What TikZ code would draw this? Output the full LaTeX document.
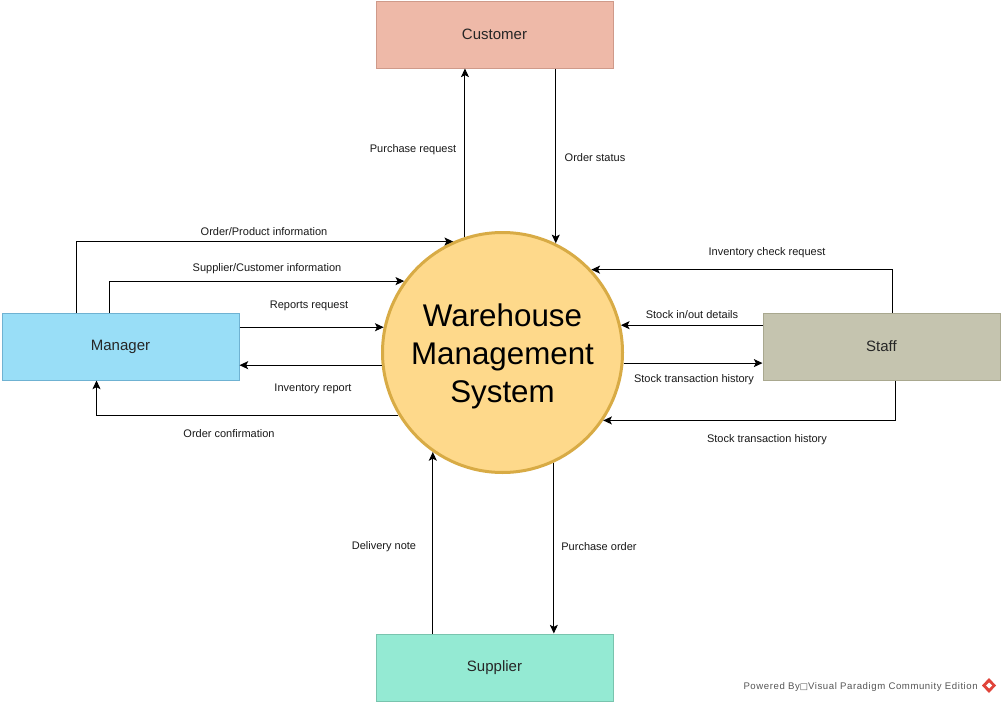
\documentclass[tikz,border=0pt]{standalone}
\usepackage{fontspec}
\setmainfont{Liberation Sans}
\newfontfamily\symfont{DejaVu Sans}
\usetikzlibrary{arrows.meta,calc}
\definecolor{custfill}{HTML}{EEB9A8}
\definecolor{custline}{HTML}{CF9A8A}
\definecolor{manfill}{HTML}{99DEF7}
\definecolor{manline}{HTML}{6FB2D2}
\definecolor{stafffill}{HTML}{C5C4AF}
\definecolor{staffline}{HTML}{A9A88F}
\definecolor{supfill}{HTML}{94EAD3}
\definecolor{supline}{HTML}{79C4AE}
\definecolor{sysfill}{HTML}{FED98B}
\definecolor{sysline}{HTML}{D8AB45}
\definecolor{wmgray}{HTML}{555555}
\definecolor{vpred}{HTML}{E0443A}
\begin{document}
\begin{tikzpicture}[x=0.75pt,y=-0.75pt,
  entity/.style={draw, line width=0.75pt, minimum width=177.75pt, minimum height=50.25pt, inner sep=0pt,
    text=black!85, font=\fontsize{11.25}{13}\selectfont},
  process/.style={circle, draw=sysline, fill=sysfill, line width=2.25pt, minimum size=180pt, inner sep=0pt,
    align=center, font=\fontsize{23.5}{28.5}\selectfont},
  flow/.style={draw=black, line width=0.75pt, -{Stealth[length=6.5pt,width=6pt,inset=1.5pt]}},
  lbl/.style={inner sep=0pt, text=black!90, font=\fontsize{8.25}{10}\selectfont}]
\fill[white] (0,0) rectangle (1001,703);
\path[use as bounding box] (0,0) rectangle (1001,703);

% entities
\node[entity, draw=custline, fill=custfill] (cust) at (494.5,34.5) {\raisebox{-1.2pt}{Customer}};
\node[entity, draw=manline, fill=manfill] (man) at (120.5,346.5) {\raisebox{-1.2pt}{Manager}};
\node[entity, draw=staffline, fill=stafffill] (staff) at (881.5,346.5) {\raisebox{-1.2pt}{Staff}};
\node[entity, draw=supline, fill=supfill] (sup) at (494.5,667.5) {\raisebox{-1.2pt}{Supplier}};
\node[process] (sys) at (502.5,352.5) {};
\node[align=center, inner sep=0pt, font=\fontsize{23.5}{28.5}\selectfont] (systxt) at (502.5,356) {Warehouse\\Management\\System};

% connector end points on the boxes
\coordinate (m1) at ($(man.north west)+(75,0)$);
\coordinate (m2) at ($(man.north west)+(108,0)$);
\coordinate (m3) at ($(man.south west)+(95,0)$);
\coordinate (s1) at ($(staff.north west)+(130,0)$);
\coordinate (s2) at ($(staff.south west)+(133,0)$);

% customer
\draw[flow] (sys.108.2) -- (sys.108.2 |- cust.south);
\draw[flow] (sys.64.6 |- cust.south) -- (sys.64.6);
% manager
\draw[flow] (m1) |- (sys.114.1);
\draw[flow] (m2) |- (sys.144);
\draw[flow] (man.east |- sys.168.7) -- (sys.168.7);
\draw[flow] (sys.186) -- (man.east |- sys.186);
\draw[flow] (sys.211.4) -| (m3);
% staff
\draw[flow] (s1) |- (sys.43.4);
\draw[flow] (staff.west |- sys.13.7) -- (sys.13.7);
\draw[flow] (sys.-5) -- (staff.west |- sys.-5);
\draw[flow] (s2) |- (sys.-34.8);
% supplier
\draw[flow] (sys.-125.4 |- sup.north) -- (sys.-125.4);
\draw[flow] (sys.-65.6) -- (sys.-65.6 |- sup.north);

% labels
\node[lbl] (l1) at (413,150) {Purchase request};
\node[lbl] (l2) at (595,158) {Order status};
\node[lbl] (l3) at (264,232) {Order/Product information};
\node[lbl] (l4) at (267,269) {Supplier/Customer information};
\node[lbl] (l5) at (309,306) {Reports request};
\node[lbl] (l6) at (313,389) {Inventory report};
\node[lbl] (l7) at (229,434) {Order confirmation};
\node[lbl] (l8) at (767,253) {Inventory check request};
\node[lbl] (l9) at (692,315) {Stock in/out details};
\node[lbl] (l10) at (694,380) {Stock transaction history};
\node[lbl] (l11) at (767,440) {Stock transaction history};
\node[lbl] (l12) at (384,547) {Delivery note};
\node[lbl] (l13) at (599,547) {Purchase order};

% watermark
\node[inner sep=0pt, text=wmgray, font=\fontsize{7.2}{9}\selectfont, anchor=east] (wm) at (978,687)
  {\addfontfeatures{LetterSpace=6}Powered By{\symfont\fontsize{6.5}{8}\selectfont □}Visual Paradigm Community Edition};
\fill[vpred] (989,678) -- (996,685.5) -- (989,693) -- (982,685.5) -- cycle;
\fill[white] (989,682.5) -- (992,685.5) -- (989,688.5) -- (986,685.5) -- cycle;
\end{tikzpicture}
\end{document}
